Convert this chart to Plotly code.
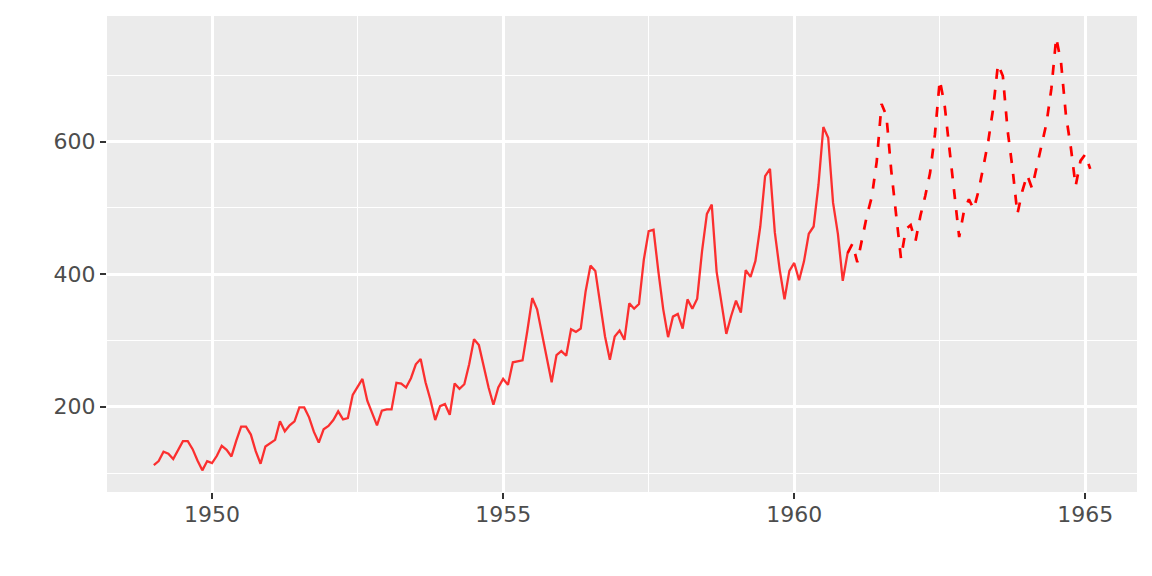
import plotly.graph_objects as go

# Monthly airline passengers (thousands), Jan 1949 - Dec 1960
actual_start_year = 1949
actual = [
    112, 118, 132, 129, 121, 135, 148, 148, 136, 119, 104, 118,
    115, 126, 141, 135, 125, 149, 170, 170, 158, 133, 114, 140,
    145, 150, 178, 163, 172, 178, 199, 199, 184, 162, 146, 166,
    171, 180, 193, 181, 183, 218, 230, 242, 209, 191, 172, 194,
    196, 196, 236, 235, 229, 243, 264, 272, 237, 211, 180, 201,
    204, 188, 235, 227, 234, 264, 302, 293, 259, 229, 203, 229,
    242, 233, 267, 269, 270, 315, 364, 347, 312, 274, 237, 278,
    284, 277, 317, 313, 318, 374, 413, 405, 355, 306, 271, 306,
    315, 301, 356, 348, 355, 422, 465, 467, 404, 347, 305, 336,
    340, 318, 362, 348, 363, 435, 491, 505, 404, 359, 310, 337,
    360, 342, 406, 396, 420, 472, 548, 559, 463, 407, 362, 405,
    417, 391, 419, 461, 472, 535, 622, 606, 508, 461, 390, 432,
]

# Projected path, starting from the last observed month (Dec 1960)
forecast_start = 1960 + 11 / 12
forecast = [
    432,
    446, 418, 455, 489, 517, 570, 657, 639, 556, 491, 424, 468,
    474, 450, 488, 518, 553, 611, 693, 655, 589, 526, 456, 496,
    513, 498, 526, 563, 601, 650, 717, 699, 616, 559, 491, 525,
    550, 530, 562, 592, 628, 680, 757, 719, 640, 592, 533, 571,
    581, 559,
]

x_ticks = [1950, 1955, 1960, 1965]
x_minor = [1952.5, 1957.5, 1962.5]
y_ticks = [200, 400, 600]
y_minor = [100, 300, 500, 700]

x_actual = [actual_start_year + i / 12 for i in range(len(actual))]
x_fc = [forecast_start + i / 12 for i in range(len(forecast))]

fig = go.Figure()
fig.add_trace(go.Scatter(
    x=x_actual, y=actual, mode="lines",
    line=dict(color="rgba(255,0,0,0.8)", width=2.3),
    showlegend=False, hoverinfo="skip",
))
fig.add_trace(go.Scatter(
    x=x_fc, y=forecast, mode="lines",
    line=dict(color="#FF0000", width=2.7, dash="10px,11px"),
    showlegend=False, hoverinfo="skip",
))

x_lo, x_hi = 1949, x_fc[-1]
xr = x_hi - x_lo
y_lo, y_hi = min(actual + forecast), max(actual + forecast)
yr = y_hi - y_lo

axis_common = dict(
    showline=False, zeroline=False,
    gridcolor="white", gridwidth=2.5,
    ticks="outside", ticklen=6, tickwidth=2, tickcolor="#333333",
    tickfont=dict(family="DejaVu Sans", size=22, color="#4D4D4D"),
)

fig.update_xaxes(
    range=[x_lo - 0.05 * xr, x_hi + 0.05 * xr],
    tickvals=x_ticks, ticktext=[str(v) for v in x_ticks],
    ticklabelstandoff=-3,
    minor=dict(tickvals=x_minor, showgrid=True, gridcolor="white", gridwidth=1.2, ticklen=0),
    **axis_common,
)
fig.update_yaxes(
    range=[y_lo - 0.05 * yr, y_hi + 0.05 * yr],
    tickvals=y_ticks, ticktext=[str(v) for v in y_ticks],
    minor=dict(tickvals=y_minor, showgrid=True, gridcolor="white", gridwidth=1.2, ticklen=0),
    **axis_common,
)

fig.update_layout(
    width=1152, height=576,
    margin=dict(l=99, r=23, t=8, b=92),
    paper_bgcolor="white", plot_bgcolor="#EBEBEB",
    font=dict(family="DejaVu Sans"),
)

fig.write_html("out.html")
